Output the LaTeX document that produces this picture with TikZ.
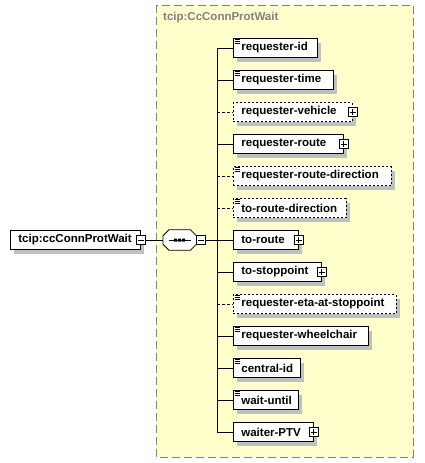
\documentclass[tikz,border=0pt]{standalone}
\usepackage{fontspec}
\setmainfont{Liberation Sans}
\usetikzlibrary{shadows}

\definecolor{groupfill}{RGB}{255,255,204}
\definecolor{groupline}{RGB}{128,128,128}
\definecolor{shadowgray}{RGB}{192,192,192}

% keep names on one line
\exhyphenpenalty=10000
\hyphenpenalty=10000

\tikzset{
  elem/.style={draw, fill=white, line width=0.8pt, anchor=west,
    minimum height=19pt, inner xsep=8pt, inner ysep=0pt,
    text width=#1, align=left, font=\bfseries\fontsize{11.5}{13}\selectfont,
    drop shadow={shadow xshift=4pt, shadow yshift=-4pt, fill=shadowgray, opacity=1}},
  optelem/.style={elem=#1, dash pattern=on 2pt off 2pt},
  seqbox/.style={anchor=west, minimum width=33pt, minimum height=20pt, inner sep=0pt},
  togglebox/.style={draw, fill=white, line width=0.7pt, minimum size=9pt, inner sep=0pt},
  link/.style={line width=0.8pt},
  optlink/.style={link, dash pattern=on 3pt off 2pt},
}

% little lines in the corner of a simple-type element
\newcommand\typeicon[1]{%
  \draw[line width=0.7pt]
    ([xshift=1.5pt,yshift=-1.5pt]#1.north west) -- +(5.5pt,0pt)
    ([xshift=1.5pt,yshift=-3.5pt]#1.north west) -- +(5pt,0pt)
    ([xshift=1.5pt,yshift=-5.5pt]#1.north west) -- +(5pt,0pt);}
% expand / collapse boxes
\newcommand\plusbox[1]{%
  \node[togglebox] (#1-tg) at (#1.east) {};
  \draw[line width=0.7pt] ([xshift=2pt]#1-tg.west) -- ([xshift=-2pt]#1-tg.east)
    ([yshift=-2pt]#1-tg.north) -- ([yshift=2pt]#1-tg.south);}
\newcommand\minusbox[2]{%
  \node[togglebox, anchor=#2] (#1-tg) at (#1.east) {};
  \draw[line width=0.7pt] ([xshift=2pt]#1-tg.west) -- ([xshift=-2pt]#1-tg.east);}
% octagon outline round a node
\newcommand\octagon[1]{%
  ([xshift=6pt]#1.north west) -- ([xshift=-6pt]#1.north east)
  -- ([yshift=-6pt]#1.north east) -- ([yshift=6pt]#1.south east)
  -- ([xshift=-6pt]#1.south east) -- ([xshift=6pt]#1.south west)
  -- ([yshift=6pt]#1.south west) -- ([yshift=-6pt]#1.north west) -- cycle}

\begin{document}
\begin{tikzpicture}[x=1pt, y=-1pt]
  \useasboundingbox (0, 0) rectangle (424, 463);
  % complex type frame
  \fill [groupfill] (156, 5) rectangle (413, 457);
  \draw [groupline, line width=0.8pt, dash pattern=on 8pt off 4pt] (156, 5) rectangle (413, 457);
  \node [anchor=west, inner sep=2pt, text=groupline, font=\bfseries\fontsize{11.5}{13}\selectfont]
    (title) at (161, 18) {tcip:CcConnProtWait};
  % root element and sequence
  \node [elem=114pt] (root) at (10, 240) {tcip:ccConnProtWait};
  \minusbox{root}{center}
  \node [seqbox] (seq) at (163, 240) {};
  \fill [shadowgray, shift={(4pt,-4pt)}] \octagon{seq};
  \draw [link, fill=white] \octagon{seq};
  \draw [link] ([xshift=-11pt]seq.center) -- ([xshift=11pt]seq.center);
  \fill ([xshift=-5.5pt,yshift=-1.5pt]seq.center) rectangle +(3pt,3pt)
        ([xshift=-1.5pt,yshift=-1.5pt]seq.center) rectangle +(3pt,3pt)
        ([xshift=2.5pt,yshift=-1.5pt]seq.center) rectangle +(3pt,3pt);
  \minusbox{seq}{west}
  % child elements
  \node [elem=68pt] (reqid) at (233, 48) {requester-id};
  \typeicon{reqid}
  \node [elem=84pt] (reqtime) at (233, 80) {requester-time};
  \typeicon{reqtime}
  \node [optelem=103pt] (reqveh) at (233, 112) {requester-vehicle};
  \plusbox{reqveh}
  \node [elem=94pt] (reqroute) at (233, 144) {requester-route};
  \plusbox{reqroute}
  \node [optelem=142pt] (reqroutedir) at (233, 176) {requester-route-direction};
  \typeicon{reqroutedir}
  \node [optelem=97pt] (toroutedir) at (233, 208) {to-route-direction};
  \typeicon{toroutedir}
  \node [elem=49pt] (toroute) at (233, 240) {to-route};
  \plusbox{toroute}
  \node [elem=72pt] (tostop) at (233, 272) {to-stoppoint};
  \plusbox{tostop}
  \node [optelem=147pt] (reqeta) at (233, 304) {requester-eta-at-stoppoint};
  \typeicon{reqeta}
  \node [elem=119pt] (reqwheel) at (233, 336) {requester-wheelchair};
  \typeicon{reqwheel}
  \node [elem=51pt] (centralid) at (233, 368) {central-id};
  \typeicon{centralid}
  \node [elem=49pt] (waituntil) at (233, 400) {wait-until};
  \typeicon{waituntil}
  \node [elem=64pt] (waiterptv) at (233, 432) {waiter-PTV};
  \plusbox{waiterptv}
  % connectors
  \coordinate (trunk) at (217, 0);
  \draw [link] (root-tg.east) -- (seq.west);
  \draw [link] (seq-tg.east) -- (toroute.west);
  \draw [link] (trunk |- reqid.west) -- (trunk |- waiterptv.west);
  \draw [link] (trunk |- reqid.west) -- (reqid.west);
  \draw [link] (trunk |- reqtime.west) -- (reqtime.west);
  \draw [optlink] (trunk |- reqveh.west) -- (reqveh.west);
  \draw [link] (trunk |- reqroute.west) -- (reqroute.west);
  \draw [optlink] (trunk |- reqroutedir.west) -- (reqroutedir.west);
  \draw [optlink] (trunk |- toroutedir.west) -- (toroutedir.west);
  \draw [link] (trunk |- tostop.west) -- (tostop.west);
  \draw [optlink] (trunk |- reqeta.west) -- (reqeta.west);
  \draw [link] (trunk |- reqwheel.west) -- (reqwheel.west);
  \draw [link] (trunk |- centralid.west) -- (centralid.west);
  \draw [link] (trunk |- waituntil.west) -- (waituntil.west);
  \draw [link] (trunk |- waiterptv.west) -- (waiterptv.west);
\end{tikzpicture}
\end{document}
